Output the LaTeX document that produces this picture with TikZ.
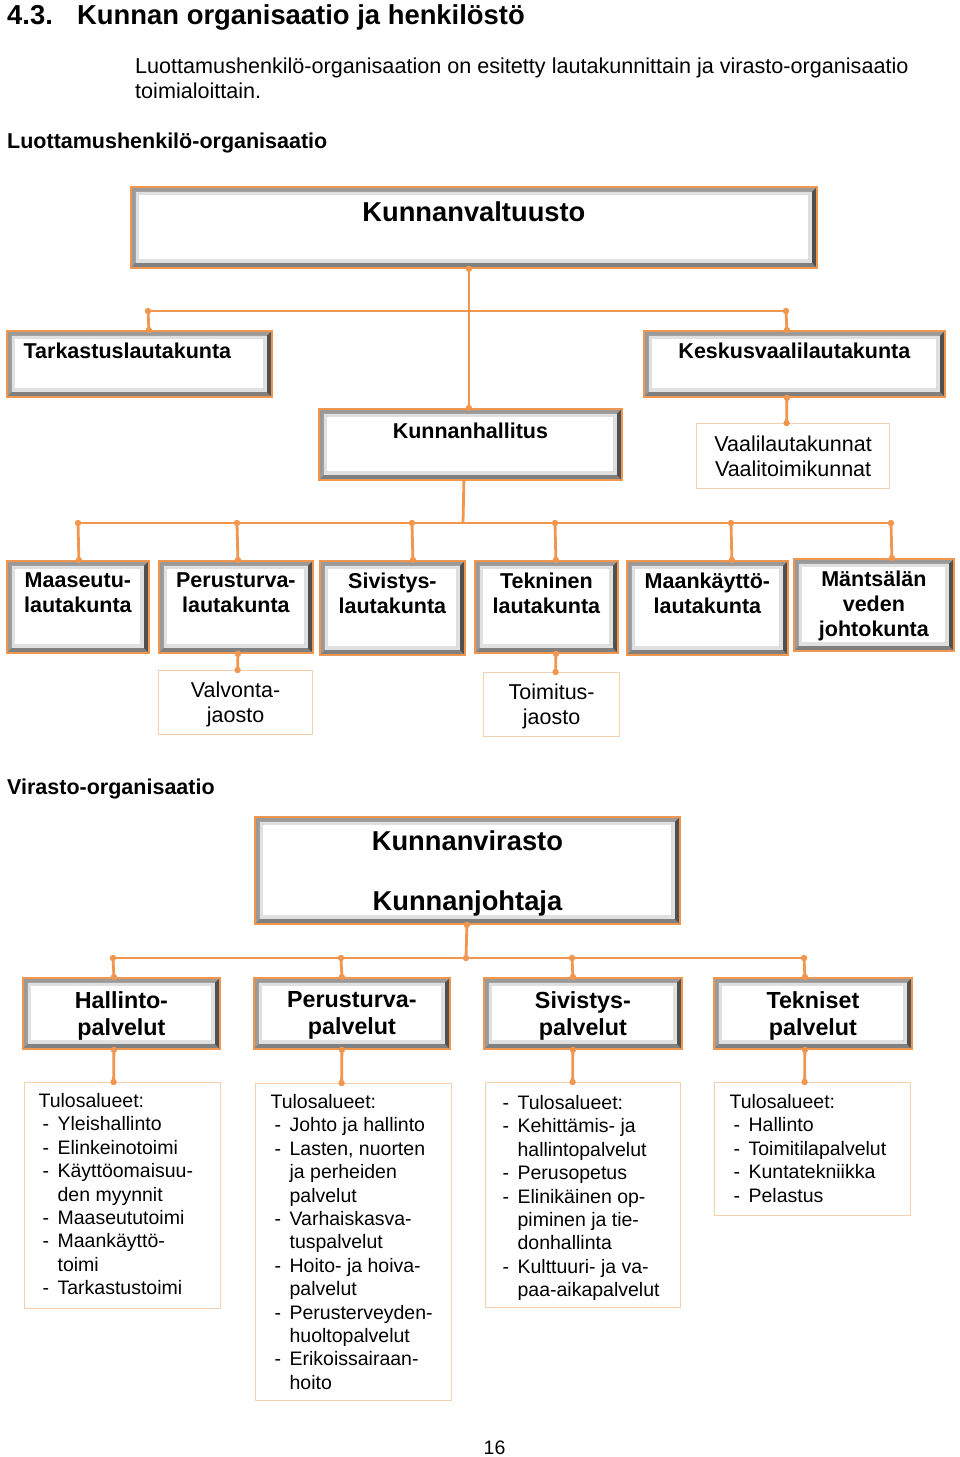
\documentclass[tikz,border=0pt]{standalone}
\usepackage{fontspec}
\setmainfont{Liberation Sans}
\usetikzlibrary{arrows.meta,calc}
\definecolor{orng}{HTML}{F0964E}
\definecolor{peach}{HTML}{F3D0B0}
\definecolor{bvA}{HTML}{9A9A9A}
\definecolor{bvR}{HTML}{505050}
\definecolor{bvB}{HTML}{808080}
\definecolor{bvL}{HTML}{E0E0E0}
\newcommand{\tb}[4]{\parbox[c][#2pt][t]{#1pt}{\vspace*{#3pt}#4}}
\newcommand{\dsh}{\makebox[19pt][l]{\hspace{4pt}-}}
\newcommand{\ind}{\hspace*{19pt}}
\newcommand{\dt}[1]{\fill[orng] (#1) circle (3.2pt);}
\newcommand{\hdrf}{\fontsize{27.4}{32}\selectfont\bfseries}
\newcommand{\bodyf}{\fontsize{21.6}{25}\selectfont}
\newcommand{\subhf}{\fontsize{21.5}{25}\selectfont\bfseries}
\newcommand{\bxA}{\fontsize{27.3}{33}\selectfont\bfseries}
\newcommand{\bxB}{\fontsize{21.5}{25}\selectfont\bfseries}
\newcommand{\bxC}{\fontsize{23.3}{27}\selectfont\bfseries}
\newcommand{\plf}{\fontsize{21.5}{25}\selectfont}
\newcommand{\lstf}{\fontsize{19.5}{23.4}\selectfont}
\tikzset{
  bevel/.style={draw=orng, line width=1.8pt, fill=white, inner sep=0pt, anchor=north west,
    path picture={
      \fill[bvA,even odd rule] let \p1=(path picture bounding box.north west), \p2=(path picture bounding box.south east) in
        (\x1+1pt,\y1-1pt) rectangle (\x2-1pt,\y2+1pt) (\x1+8pt,\y1-8pt) rectangle (\x2-8pt,\y2+8pt);
      \fill[bvB] let \p1=(path picture bounding box.north west), \p2=(path picture bounding box.south east) in
        (\x1+1pt,\y2+1pt) -- (\x2-1pt,\y2+1pt) -- (\x2-8pt,\y2+8pt) -- (\x1+8pt,\y2+8pt) -- cycle;
      \fill[bvR] let \p1=(path picture bounding box.north west), \p2=(path picture bounding box.south east) in
        (\x2-1pt,\y1-1pt) -- (\x2-1pt,\y2+1pt) -- (\x2-8pt,\y2+8pt) -- (\x2-8pt,\y1-8pt) -- cycle;
      \fill[bvL,even odd rule] let \p1=(path picture bounding box.north west), \p2=(path picture bounding box.south east) in
        (\x1+5pt,\y1-5pt) rectangle (\x2-5pt,\y2+5pt) (\x1+8pt,\y1-8pt) rectangle (\x2-8pt,\y2+8pt);
    }},
  plainbox/.style={draw=peach, line width=1.2pt, fill=white, inner sep=0pt, anchor=north west},
  conn/.style={draw=orng, line width=2.8pt},
  txt/.style={inner sep=0pt, anchor=base west}
}
\begin{document}
\begin{tikzpicture}[x=1pt,y=-1pt]
\path[use as bounding box, fill=white] (0,0) rectangle (960,1457);

% headings
\node[txt, font=\hdrf] (h43) at (7,24) {4.3.};
\node[txt, font=\hdrf] (htitle) at (77,24) {Kunnan organisaatio ja henkilöstö};
\node[inner sep=0pt, anchor=north west, align=left, font=\bodyf] (intro) at (135,58)
  {Luottamushenkilö-organisaation on esitetty lautakunnittain ja virasto-organisaatio\\toimialoittain.};
\node[txt, font=\subhf] (s1) at (7,148) {Luottamushenkilö-organisaatio};
\node[txt, font=\subhf] (s2) at (7,794) {Virasto-organisaatio};
\node[inner sep=0pt, anchor=base, font=\lstf] (pg) at (494.5,1454) {16};

% luottamushenkilo-organisaatio
\node[bevel, font=\bxA] (kv) at (130,186) {\tb{686}{81}{15}{\centering Kunnanvaltuusto}};
\node[bevel, font=\bxB] (tark) at (6,330) {\tb{265}{66}{12}{\centering\hspace*{-24pt}Tarkastuslautakunta}};
\node[bevel, font=\bxB] (kesk) at (643,330) {\tb{301}{66}{12}{\centering Keskusvaalilautakunta}};
\node[bevel, font=\bxB] (kh) at (318,408) {\tb{303}{71}{14}{\centering Kunnanhallitus}};
\node[plainbox, font=\plf] (vaali) at (696,423) {\tb{193}{65}{12}{\centering Vaalilautakunnat\\Vaalitoimikunnat}};

\node[bevel, font=\bxB] (maa) at (6,560) {\tb{142}{92}{12}{\centering Maaseutu-\\lautakunta}};
\node[bevel, font=\bxB] (per) at (158,560) {\tb{154}{92}{12}{\centering Perusturva-\\lautakunta}};
\node[bevel, font=\bxB] (siv) at (319,560) {\tb{145}{94}{12}{\centering Sivistys-\\lautakunta}};
\node[bevel, font=\bxB] (tek) at (474,560) {\tb{143}{92}{12}{\centering Tekninen\\lautakunta}};
\node[bevel, font=\bxB] (maan) at (626,560) {\tb{161}{94}{12}{\centering Maankäyttö-\\lautakunta}};
\node[bevel, font=\bxB] (man) at (793,558) {\tb{160}{92}{12}{\centering Mäntsälän\\veden\\johtokunta}};

\node[plainbox, font=\plf] (valv) at (158,670) {\tb{154}{64}{11}{\centering Valvonta-\\jaosto}};
\node[plainbox, font=\plf] (toim) at (483,672) {\tb{136}{64}{11}{\centering Toimitus-\\jaosto}};

% virasto-organisaatio
\node[bevel, font=\bxA] (kvir) at (254,816) {\tb{425}{107}{14}{\centering Kunnanvirasto\\[27pt]Kunnanjohtaja}};
\node[bevel, font=\bxC] (hal) at (22,977) {\tb{197}{71}{13.4}{\centering Hallinto-\\palvelut}};
\node[bevel, font=\bxC] (perp) at (253,977) {\tb{196}{71}{13.4}{\centering Perusturva-\\palvelut}};
\node[bevel, font=\bxC] (sivp) at (483,977) {\tb{198}{71}{13.4}{\centering Sivistys-\\palvelut}};
\node[bevel, font=\bxC] (tekp) at (713,977) {\tb{198}{71}{13.4}{\centering Tekniset\\palvelut}};

\node[plainbox, font=\lstf] (l1) at (24,1082) {\tb{196}{226}{8.6}{\noindent\hspace*{14pt}\begin{tabular}[t]{@{}l@{}}Tulosalueet:\\
 \dsh Yleishallinto\\ \dsh Elinkeinotoimi\\ \dsh Käyttöomaisuu-\\ \ind den myynnit\\ \dsh Maaseututoimi\\
 \dsh Maankäyttö-\\ \ind toimi\\ \dsh Tarkastustoimi\end{tabular}}};
\node[plainbox, font=\lstf] (l2) at (255,1083) {\tb{196}{317}{8.6}{\noindent\hspace*{15pt}\begin{tabular}[t]{@{}l@{}}Tulosalueet:\\
 \dsh Johto ja hallinto\\ \dsh Lasten, nuorten\\ \ind ja perheiden\\ \ind palvelut\\ \dsh Varhaiskasva-\\ \ind tuspalvelut\\
 \dsh Hoito- ja hoiva-\\ \ind palvelut\\ \dsh Perusterveyden-\\ \ind huoltopalvelut\\ \dsh Erikoissairaan-\\ \ind hoito\end{tabular}}};
\node[plainbox, font=\lstf] (l3) at (485,1082) {\tb{195}{225}{10.6}{\noindent\hspace*{13pt}\begin{tabular}[t]{@{}l@{}}\dsh Tulosalueet:\\
 \dsh Kehittämis- ja\\ \ind hallintopalvelut\\ \dsh Perusopetus\\ \dsh Elinikäinen op-\\ \ind piminen ja tie-\\ \ind donhallinta\\
 \dsh Kulttuuri- ja va-\\ \ind paa-aikapalvelut\end{tabular}}};
\node[plainbox, font=\lstf] (l4) at (714,1082) {\tb{196}{133}{9.6}{\noindent\hspace*{15pt}\begin{tabular}[t]{@{}l@{}}Tulosalueet:\\
 \dsh Hallinto\\ \dsh Toimitilapalvelut\\ \dsh Kuntatekniikka\\ \dsh Pelastus\end{tabular}}};

% connectors: top
\coordinate (b1a) at (148,311);
\coordinate (b1b) at (786,311);
\draw[conn] ([xshift=-5pt]kv.south) -- ([xshift=-1.5pt]kh.north);
\draw[conn] (b1a) -- (b1b);
\draw[conn] (b1a) -- ([xshift=9.5pt]tark.north);
\draw[conn] (b1b) -- ([xshift=-7.5pt]kesk.north);
\draw[conn] ([xshift=-7.5pt]kesk.south) -- ([xshift=-6.5pt]vaali.north);
\dt{[xshift=-5pt]kv.south} \dt{b1a} \dt{b1b} \dt{[xshift=9.5pt]tark.north} \dt{[xshift=-7.5pt]kesk.north}
\dt{[xshift=-1.5pt]kh.north} \dt{[xshift=-7.5pt]kesk.south} \dt{[xshift=-6.5pt]vaali.north}

% lautakunnat
\coordinate (j2) at (463,523);
\coordinate (r1) at (78,523);
\coordinate (r2) at (237,523);
\coordinate (r3) at (412,523);
\coordinate (r4) at (555,523);
\coordinate (r5) at (731,523);
\coordinate (r6) at (891,523);
\draw[conn] ([xshift=-6.5pt]kh.south) -- (j2);
\draw[conn] (r1) -- (r6);
\draw[conn] (r1) -- ([xshift=1pt]maa.north);
\draw[conn] (r2) -- ([xshift=2pt]per.north);
\draw[conn] (r3) -- ([xshift=20.5pt]siv.north);
\draw[conn] (r4) -- ([xshift=9.5pt]tek.north);
\draw[conn] (r5) -- ([xshift=24.5pt]maan.north);
\draw[conn] (r6) -- ([xshift=18pt]man.north);
\draw[conn] ([xshift=2pt]per.south) -- ([xshift=2pt]valv.north);
\draw[conn] ([xshift=9.5pt]tek.south) -- ([xshift=4pt]toim.north);
\foreach \r in {r1,r2,r3,r4,r5,r6} {\dt{\r}}
\dt{[xshift=1pt]maa.north} \dt{[xshift=2pt]per.north} \dt{[xshift=20.5pt]siv.north}
\dt{[xshift=9.5pt]tek.north} \dt{[xshift=24.5pt]maan.north} \dt{[xshift=18pt]man.north}
\dt{[xshift=2pt]per.south} \dt{[xshift=2pt]valv.north} \dt{[xshift=9.5pt]tek.south} \dt{[xshift=4pt]toim.north}

% virasto
\coordinate (j3) at (466,958);
\coordinate (q1) at (113,958);
\coordinate (q2) at (341,958);
\coordinate (q3) at (572,958);
\coordinate (q4) at (804,958);
\draw[conn] ([xshift=-0.5pt]kvir.south) -- (j3);
\draw[conn] (q1) -- (q4);
\draw[conn] (q1) -- ([xshift=-7.5pt]hal.north);
\draw[conn] (q2) -- ([xshift=-10pt]perp.north);
\draw[conn] (q3) -- ([xshift=-10pt]sivp.north);
\draw[conn] (q4) -- ([xshift=-8pt]tekp.north);
\draw[conn] ([xshift=-7.5pt]hal.south) -- ([xshift=-9pt]l1.north);
\draw[conn] ([xshift=-10pt]perp.south) -- ([xshift=-12pt]l2.north);
\draw[conn] ([xshift=-10pt]sivp.south) -- ([xshift=-10.5pt]l3.north);
\draw[conn] ([xshift=-8pt]tekp.south) -- ([xshift=-8pt]l4.north);
\foreach \q in {j3,q1,q2,q3,q4} {\dt{\q}}
\dt{[xshift=-0.5pt]kvir.south}
\dt{[xshift=-7.5pt]hal.north} \dt{[xshift=-10pt]perp.north} \dt{[xshift=-10pt]sivp.north} \dt{[xshift=-8pt]tekp.north}
\dt{[xshift=-7.5pt]hal.south} \dt{[xshift=-10pt]perp.south} \dt{[xshift=-10pt]sivp.south} \dt{[xshift=-8pt]tekp.south}
\dt{[xshift=-9pt]l1.north} \dt{[xshift=-12pt]l2.north} \dt{[xshift=-10.5pt]l3.north} \dt{[xshift=-8pt]l4.north}
\end{tikzpicture}
\end{document}
